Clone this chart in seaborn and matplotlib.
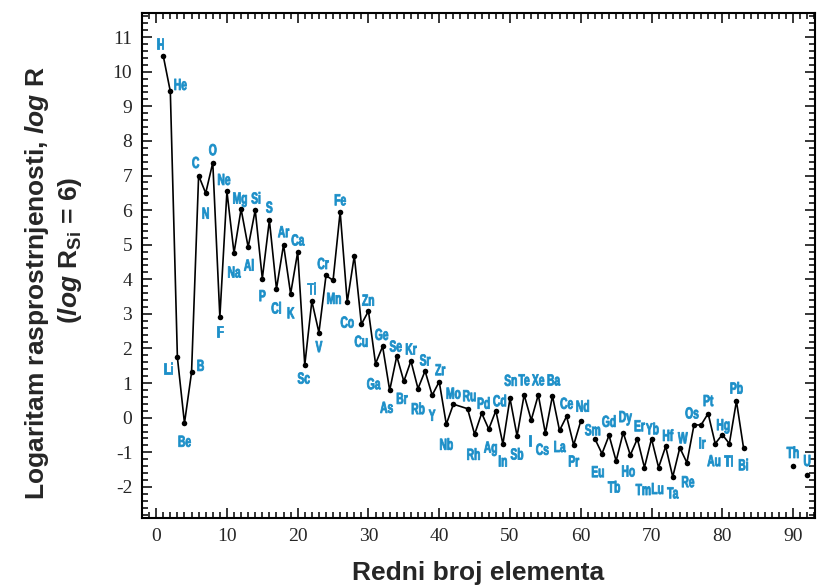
import numpy as np
import pandas as pd
import seaborn as sns
import matplotlib.pyplot as plt
from matplotlib import patheffects
from matplotlib.ticker import MultipleLocator
from matplotlib.transforms import Affine2D

# atomic number, symbol, log abundance (Si = 6)
z_main = [1, 2, 3, 4, 5, 6, 7, 8, 9, 10, 11, 12, 13, 14, 15, 16, 17, 18, 19, 20,
          21, 22, 23, 24, 25, 26, 27, 28, 29, 30, 31, 32, 33, 34, 35, 36, 37, 38,
          39, 40, 41, 42, 44, 45, 46, 47, 48, 49, 50, 51, 52, 53, 54, 55, 56, 57,
          58, 59, 60]
sym_main = ["H", "He", "Li", "Be", "B", "C", "N", "O", "F", "Ne", "Na", "Mg", "Al",
            "Si", "P", "S", "Cl", "Ar", "K", "Ca", "Sc", "Ti", "V", "Cr", "Mn", "Fe",
            "Co", "", "Cu", "Zn", "Ga", "Ge", "As", "Se", "Br", "Kr", "Rb", "Sr", "Y",
            "Zr", "Nb", "Mo", "Ru", "Rh", "Pd", "Ag", "Cd", "In", "Sn", "Sb", "Te",
            "I", "Xe", "Cs", "Ba", "La", "Ce", "Pr", "Nd"]
logr_main = [10.46, 9.43, 1.74, -0.16, 1.31, 7.00, 6.49, 7.37, 2.91, 6.54, 4.76, 6.03,
             4.93, 6.00, 4.02, 5.71, 3.72, 5.00, 3.58, 4.79, 1.52, 3.37, 2.46, 4.11,
             3.97, 5.95, 3.34, 4.68, 2.70, 3.08, 1.56, 2.06, 0.79, 1.78, 1.05, 1.64,
             0.84, 1.35, 0.65, 1.04, -0.19, 0.39, 0.26, -0.48, 0.13, -0.33, 0.20,
             -0.76, 0.56, -0.53, 0.66, -0.07, 0.66, -0.45, 0.63, -0.37, 0.04, -0.79,
             -0.10]

z_heavy = [62, 63, 64, 65, 66, 67, 68, 69, 70, 71, 72, 73, 74, 75, 76, 77, 78, 79,
           80, 81, 82, 83]
sym_heavy = ["Sm", "Eu", "Gd", "Tb", "Dy", "Ho", "Er", "Tm", "Yb", "Lu", "Hf", "Ta",
             "W", "Re", "Os", "Ir", "Pt", "Au", "Hg", "Tl", "Pb", "Bi"]
logr_heavy = [-0.61, -1.04, -0.51, -1.25, -0.43, -1.08, -0.61, -1.44, -0.61, -1.44,
              -0.83, -1.71, -0.87, -1.30, -0.21, -0.21, 0.12, -0.75, -0.49, -0.75,
              0.48, -0.87]

z_act = [90, 92]
sym_act = ["Th", "U"]
logr_act = [-1.41, -1.67]

# label offsets in pixels (dx, dy up positive)
offsets = {
    "H": (-3, 11), "He": (10, 6), "Li": (-9, -12), "Be": (0, -19), "B": (9, 6),
    "C": (-3, 12), "N": (0, -21), "O": (0, 12), "F": (0, -15), "Ne": (-3, 11),
    "Na": (0, -20), "Mg": (-1, 10), "Al": (1, -19), "Si": (1, 11), "P": (0, -18),
    "S": (0, 12), "Cl": (0, -20), "Ar": (0, 12), "K": (0, -20), "Ca": (0, 11),
    "Sc": (-1, -14), "Ti": (0, 12), "V": (0, -15), "Cr": (-3, 11), "Mn": (1, -19),
    "Fe": (0, 11), "Co": (0, -21), "Cu": (0, -18), "Zn": (0, 10), "Ga": (-2, -21),
    "Ge": (-1, 11), "As": (-3, -18), "Se": (-1, 9), "Br": (-2, -18), "Kr": (0, 11),
    "Rb": (0, -21), "Sr": (0, 10), "Y": (0, -21), "Zr": (1, 11), "Nb": (0, -21),
    "Mo": (0, 10), "Ru": (2, 12), "Rh": (-1, -21), "Pd": (2, 9), "Ag": (2, -19),
    "Cd": (4, 9), "In": (0, -18), "Sn": (1, 17), "Sb": (0, -19), "Te": (0, 14),
    "I": (-1, -21), "Xe": (0, 14), "Cs": (-3, -17), "Ba": (1, 15), "La": (0, -17),
    "Ce": (0, 12), "Pr": (0, -17), "Nd": (2, 14),
    "Sm": (-2, 8), "Eu": (-4, -19), "Gd": (0, 13), "Tb": (-2, -27), "Dy": (2, 15),
    "Ho": (-2, -17), "Er": (2, 12), "Tm": (-1, -23), "Yb": (1, 9), "Lu": (-1, -22),
    "Hf": (2, 10), "Ta": (0, -17), "W": (3, 9), "Re": (1, -20), "Os": (-2, 11),
    "Ir": (1, -19), "Pt": (0, 12), "Au": (-1, -18), "Hg": (1, 9), "Tl": (-1, -18),
    "Pb": (0, 12), "Bi": (0, -18), "Th": (0, 13), "U": (0, 14),
}

df = pd.DataFrame({
    "Z": z_main + z_heavy,
    "logR": logr_main + logr_heavy,
    "seg": ["a"] * len(z_main) + ["b"] * len(z_heavy),
})
act = pd.DataFrame({"Z": z_act, "logR": logr_act})


class Squeeze(patheffects.AbstractPathEffect):
    """Draw text narrower around its own centre (fake condensed font)."""

    def __init__(self, sx, lw=0.0):
        super().__init__()
        self.sx = sx
        self.lw = lw

    def draw_path(self, renderer, gc, tpath, affine, rgbFace=None):
        ext = affine.transform_path(tpath).get_extents()
        cx = (ext.x0 + ext.x1) / 2
        aff = affine + Affine2D().translate(-cx, 0).scale(self.sx, 1).translate(cx, 0)
        gc0 = renderer.new_gc()
        gc0.copy_properties(gc)
        if self.lw and rgbFace is not None:
            gc0.set_linewidth(self.lw)
            gc0.set_foreground(rgbFace)
        renderer.draw_path(gc0, tpath, aff, rgbFace)
        gc0.restore()


sns.set_style("ticks")
plt.rcParams["axes.unicode_minus"] = False
plt.rcParams["mathtext.fontset"] = "custom"
plt.rcParams["mathtext.rm"] = "Liberation Sans:bold"
plt.rcParams["mathtext.it"] = "Liberation Sans:italic:bold"

blue = "#1c8fc8"

fig = plt.figure(figsize=(8.19, 5.86), dpi=100)
ax = fig.add_axes([0.1734, 0.116, 0.8217, 0.862])

sns.lineplot(data=df, x="Z", y="logR", units="seg", estimator=None, sort=False,
             color="black", lw=1.2, marker="o", markersize=4, markeredgewidth=0,
             ax=ax)
sns.scatterplot(data=act, x="Z", y="logR", color="black", s=16, linewidth=0, ax=ax)

squeeze = [Squeeze(0.64, lw=0.6)]
for zs, syms, vals in [(z_main, sym_main, logr_main),
                       (z_heavy, sym_heavy, logr_heavy),
                       (z_act, sym_act, logr_act)]:
    for z, s, v in zip(zs, syms, vals):
        if not s:
            continue
        dx, dy = offsets[s]
        ax.annotate(s, (z, v), xytext=(dx, dy), textcoords="offset pixels",
                    ha="center", va="center", color=blue, fontsize=11.5,
                    fontweight="bold", family="Liberation Sans",
                    path_effects=squeeze)

ax.set_xlim(-2, 93.1)
ax.set_ylim(-2.9, 11.7)
ax.xaxis.set_major_locator(MultipleLocator(10))
ax.xaxis.set_minor_locator(MultipleLocator(1))
ax.yaxis.set_major_locator(MultipleLocator(1))
ax.yaxis.set_minor_locator(MultipleLocator(0.2))
ax.tick_params(which="both", direction="in", top=True, right=True, color="black",
               width=1.1)
ax.tick_params(which="major", length=7, labelsize=14, pad=7)
ax.tick_params(which="minor", length=4)
for lab in ax.get_xticklabels() + ax.get_yticklabels():
    lab.set_family("Liberation Serif")
for sp in ax.spines.values():
    sp.set_linewidth(1.5)
    sp.set_color("black")

ax.set_xlabel("Redni broj elementa", fontsize=19, fontweight="bold",
              family="Liberation Sans", labelpad=12)
ax.set_ylabel("")
fig.text(0.045, 0.517, r"Logaritam rasprostrnjenosti, $\mathit{log}$ R",
         rotation=90, ha="center", va="center", fontsize=19, fontweight="bold",
         family="Liberation Sans")
fig.text(0.085, 0.573, r"($\mathit{log}$ R$_{\mathrm{Si}}$ = 6)",
         rotation=90, ha="center", va="center", fontsize=19, fontweight="bold",
         family="Liberation Sans")

fig.savefig("out.png", dpi=100)
